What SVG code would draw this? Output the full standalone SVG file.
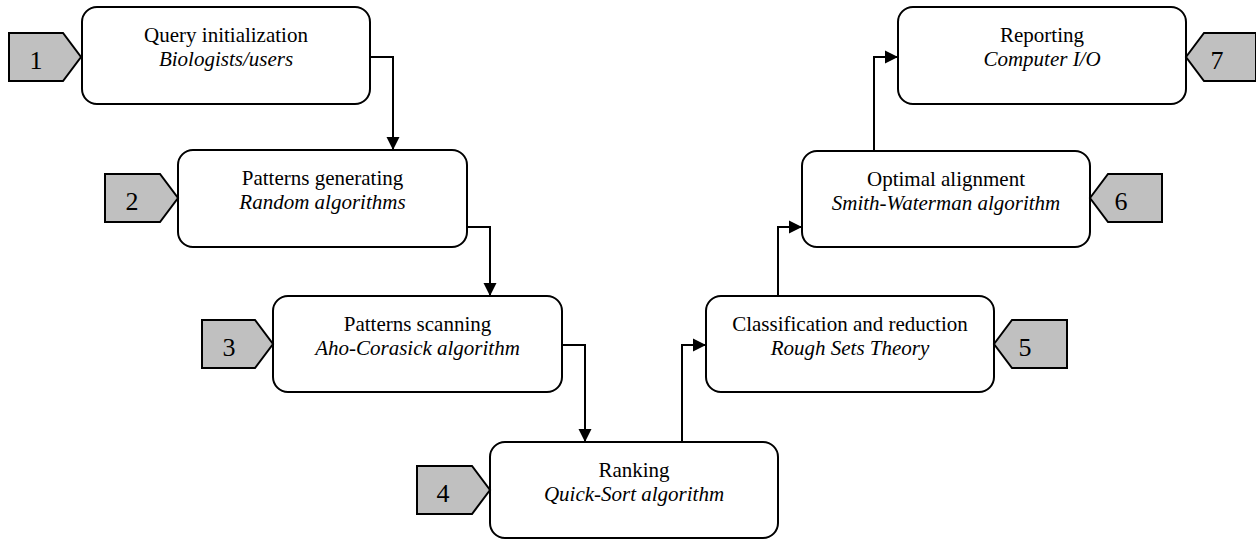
<svg xmlns="http://www.w3.org/2000/svg" width="1256" height="540" viewBox="0 0 1256 540">
<style>
.box{fill:#fff;stroke:#000;stroke-width:2}
.tag{fill:#c0c0c0;stroke:#000;stroke-width:2}
.t{font-family:"Liberation Serif","Times New Roman",serif;font-size:21px;fill:#000;text-anchor:middle}
.i{font-style:italic}
.n{font-family:"Liberation Serif","Times New Roman",serif;font-size:26px;fill:#000;text-anchor:middle}
.c{fill:none;stroke:#000;stroke-width:2}
</style>
<defs>
<marker id="ah" markerUnits="userSpaceOnUse" markerWidth="14" markerHeight="14" refX="13" refY="7" orient="auto">
<path d="M0,0.5 L13,7 L0,13.5 z" fill="#000"/>
</marker>
</defs>
<g id="connectors">
<path class="c" d="M370,57 H393 V150" marker-end="url(#ah)"/>
<path class="c" d="M467,227 H490 V296" marker-end="url(#ah)"/>
<path class="c" d="M562,345 H585 V442" marker-end="url(#ah)"/>
<path class="c" d="M682,442 V345 H706" marker-end="url(#ah)"/>
<path class="c" d="M778,296 V227 H802" marker-end="url(#ah)"/>
<path class="c" d="M874,151 V57 H898" marker-end="url(#ah)"/>
</g>
<g id="node1">
<rect class="box" x="82" y="7" width="288" height="97" rx="15"/>
<text class="t" x="226" y="42">Query initialization</text>
<text class="t i" x="226" y="66">Biologists/users</text>
<polygon class="tag" points="9,33 63,33 81,57 63,81 9,81"/>
<text class="n" x="36" y="69">1</text>
</g>
<g id="node2">
<rect class="box" x="178" y="150" width="289" height="97" rx="15"/>
<text class="t" x="322.5" y="185">Patterns generating</text>
<text class="t i" x="322.5" y="209">Random algorithms</text>
<polygon class="tag" points="105,174 160,174 178,198 160,222 105,222"/>
<text class="n" x="132" y="210">2</text>
</g>
<g id="node3">
<rect class="box" x="273" y="296" width="289" height="96" rx="15"/>
<text class="t" x="417.5" y="331">Patterns scanning</text>
<text class="t i" x="417.5" y="355">Aho-Corasick algorithm</text>
<polygon class="tag" points="202,320 255,320 273,344 255,368 202,368"/>
<text class="n" x="229" y="356">3</text>
</g>
<g id="node4">
<rect class="box" x="490" y="442" width="288" height="96" rx="15"/>
<text class="t" x="634" y="477">Ranking</text>
<text class="t i" x="634" y="501">Quick-Sort algorithm</text>
<polygon class="tag" points="417,466 472,466 490,490 472,514 417,514"/>
<text class="n" x="443" y="502">4</text>
</g>
<g id="node5">
<rect class="box" x="706" y="296" width="288" height="96" rx="15"/>
<text class="t" x="850" y="331">Classification and reduction</text>
<text class="t i" x="850" y="355">Rough Sets Theory</text>
<polygon class="tag" points="994,344 1012,320 1067,320 1067,368 1012,368"/>
<text class="n" x="1025" y="356">5</text>
</g>
<g id="node6">
<rect class="box" x="802" y="151" width="288" height="96" rx="15"/>
<text class="t" x="946" y="186">Optimal alignment</text>
<text class="t i" x="946" y="210">Smith-Waterman algorithm</text>
<polygon class="tag" points="1090,198 1108,174 1162,174 1162,222 1108,222"/>
<text class="n" x="1121" y="210">6</text>
</g>
<g id="node7">
<rect class="box" x="898" y="7" width="288" height="97" rx="15"/>
<text class="t" x="1042" y="42">Reporting</text>
<text class="t i" x="1042" y="66">Computer I/O</text>
<polygon class="tag" points="1186,57 1204,33 1256,33 1256,81 1204,81"/>
<text class="n" x="1217" y="69">7</text>
</g>
</svg>
